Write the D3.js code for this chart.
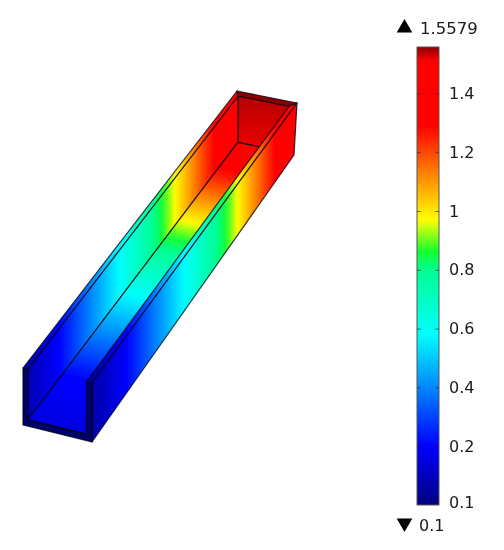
<!DOCTYPE html>
<html><head><meta charset="utf-8">
<script src="https://cdn.jsdelivr.net/npm/d3@7"></script>
<style>html,body{margin:0;padding:0;background:#fff}svg{display:block}text{font-family:"DejaVu Sans";fill:#1a1a1a}</style>
</head><body><svg id="c" width="504" height="550"></svg>
<script>
// colour legend
const colorValues = [0, 0.2, 0.58, 0.8, 0.86, 0.97, 1.29, 1.51, 1.5579];
const colorStops = ["#000080", "#0000ff", "#00ffff", "#00ff90", "#10ff30", "#ffff00", "#ff0000", "#ff0000", "#8a0000"];
const tickValues = [0.01, 0.2, 0.4, 0.6, 0.8, 1, 1.2, 1.4];
const tickLabels = ["0.1", "0.2", "0.4", "0.6", "0.8", "1", "1.2", "1.4"];
const maxLabel = "1.5579", minLabel = "0.1";
// value along the length of the channel (0 = near end, 1 = far end)
const fieldPos = [0, 0.17, 0.45, 0.64, 0.71, 0.89, 1];
const wallVal  = [0.06, 0.2, 0.58, 0.84, 0.97, 1.29, 1.4];
const floorVal = [0.15, 0.21, 0.58, 0.84, 0.97, 1.29, 1.4];
const backWallVal = [1.54, 1.52];

const svg = d3.select("#c");
const defs = svg.append("defs");
defs.append("filter").attr("id","soft").attr("x","-5%").attr("y","-5%").attr("width","110%").attr("height","110%")
  .append("feGaussianBlur").attr("stdDeviation",0.6);
defs.append("filter").attr("id","softT").attr("x","-5%").attr("y","-5%").attr("width","110%").attr("height","110%")
  .append("feGaussianBlur").attr("stdDeviation",0.35);

const color = d3.scaleLinear().domain(colorValues).range(colorStops).interpolate(d3.interpolateRgb);
const wall = d3.scaleLinear().domain(fieldPos).range(wallVal);
const floorField = d3.scaleLinear().domain(fieldPos).range(floorVal);

// projection of channel model (u across, v up, z along) to the page
const near = {bl:[23,425], br:[92,442], tl:[23,368], tr:[92,383]};
const far  = {bl:[237,143], br:[294,155], tl:[237,91], tr:[297,103]};
const lerp = (a,b,t)=>[a[0]+(b[0]-a[0])*t, a[1]+(b[1]-a[1])*t];
const endPt = (f,u,v)=>lerp(lerp(f.bl,f.br,u), lerp(f.tl,f.tr,u), v);
const P = (u,v,z)=>lerp(endPt(near,u,v), endPt(far,u,v), z);
const U0=0.07, U1=0.92, V0=0.11, Z1=0.985;

function gradient(id, a, b, valueAt){
  const g = defs.append("linearGradient").attr("id",id).attr("gradientUnits","userSpaceOnUse")
    .attr("x1",a[0]).attr("y1",a[1]).attr("x2",b[0]).attr("y2",b[1]);
  d3.range(0,1.0001,1/48).forEach(t=>g.append("stop").attr("offset",t).attr("stop-color",color(valueAt(t))));
}
// walls: iso-lines are vertical on the page; floor: iso-lines follow the near floor edge
const lA=P(0,1,0), lB=P(0,1,1); gradient("gL",[lA[0],0],[lB[0],0],wall);
const rA=P(1,1,0), rB=P(1,1,1); gradient("gR",[rA[0],0],[rB[0],0],wall);
const f0=P(U0,V0,0), f1=P(U0,V0,1), fe=P(U1,V0,0);
const n=[-(fe[1]-f0[1]), fe[0]-f0[0]], d=[f1[0]-f0[0], f1[1]-f0[1]];
const k=(d[0]*n[0]+d[1]*n[1])/(n[0]*n[0]+n[1]*n[1]);
gradient("gF",f0,[f0[0]+n[0]*k,f0[1]+n[1]*k],floorField);
const bA=P(U0,1,Z1), bB=P(U0,V0,Z1);
gradient("gB",bA,bB,d3.scaleLinear().domain([0,1]).range(backWallVal));

const faces = [
 {fill:"url(#gB)", pts:[[U0,1,Z1],[U1,1,Z1],[U1,V0,Z1],[U0,V0,Z1]]},
 {fill:"url(#gL)", pts:[[U0,1,0],[U0,1,Z1],[U0,V0,Z1],[U0,V0,0]]},
 {fill:"url(#gF)", pts:[[U0,V0,0],[U0,V0,Z1],[U1,V0,Z1],[U1,V0,0]]},
 {fill:"url(#gL)", pts:[[0,1,0],[0,1,1],[U0,1,Z1],[U0,1,0]]},
 {fill:"#8a0000", pts:[[0,1,1],[1,1,1],[U1,1,Z1],[U0,1,Z1]]},
 {fill:"url(#gR)", pts:[[U1,1,0],[U1,1,Z1],[1,1,1],[1,1,0]]},
 {fill:"url(#gR)", pts:[[1,1,0],[1,1,1],[1,0,1],[1,0,0]]},
 {fill:"#00006a", pts:[[0,1,0],[U0,1,0],[U0,V0,0],[U1,V0,0],[U1,1,0],[1,1,0],[1,0,0],[0,0,0]]}
];
const line = d3.line();
const box = svg.append("g").attr("filter","url(#soft)");
box.selectAll("path").data(faces).join("path")
  .attr("d",f=>line(f.pts.map(p=>P(...p)))+"Z")
  .attr("fill",f=>f.fill).attr("stroke","#080818").attr("stroke-opacity",0.8).attr("stroke-width",1.2).attr("stroke-linejoin","round");

// colour bar
const y = d3.scaleLinear().domain([0,1.5579]).range([505,47]);
const gb = defs.append("linearGradient").attr("id","gBar").attr("gradientUnits","userSpaceOnUse")
  .attr("x1",0).attr("x2",0).attr("y1",y(0)).attr("y2",y(1.5579));
colorValues.forEach((v,i)=>gb.append("stop").attr("offset",v/1.5579).attr("stop-color",colorStops[i]));
const bar = svg.append("g").attr("filter","url(#softT)");
bar.append("rect").attr("x",417).attr("y",y(1.5579)).attr("width",22).attr("height",y(0)-y(1.5579))
  .attr("fill","url(#gBar)").attr("stroke","#555").attr("stroke-width",1);
const axR = d3.axisRight(y).tickValues(tickValues).tickFormat((d,i)=>tickLabels[i]).tickSize(-4).tickPadding(10);
const gR = bar.append("g").attr("transform","translate(439,0)").call(axR);
const axL = d3.axisLeft(y).tickValues(tickValues.slice(1)).tickFormat("").tickSize(-4);
const gL = bar.append("g").attr("transform","translate(417,0)").call(axL);
[gR,gL].forEach(g=>{g.select(".domain").remove(); g.selectAll(".tick line").attr("stroke","#222").attr("stroke-opacity",.6);});
gR.selectAll("text").attr("font-size",16).attr("font-family","DejaVu Sans").attr("fill","#1a1a1a");

// extrema markers
const tri = d3.symbol().type(d3.symbolTriangle).size(105);
bar.append("path").attr("d",tri).attr("fill","#000").attr("transform","translate(404.5,28)");
bar.append("path").attr("d",tri).attr("fill","#000").attr("transform","translate(404.5,523) rotate(180)");
bar.append("text").attr("x",420).attr("y",34).attr("font-size",16.5).text(maxLabel);
bar.append("text").attr("x",419).attr("y",531).attr("font-size",16).text(minLabel);
</script></body></html>
